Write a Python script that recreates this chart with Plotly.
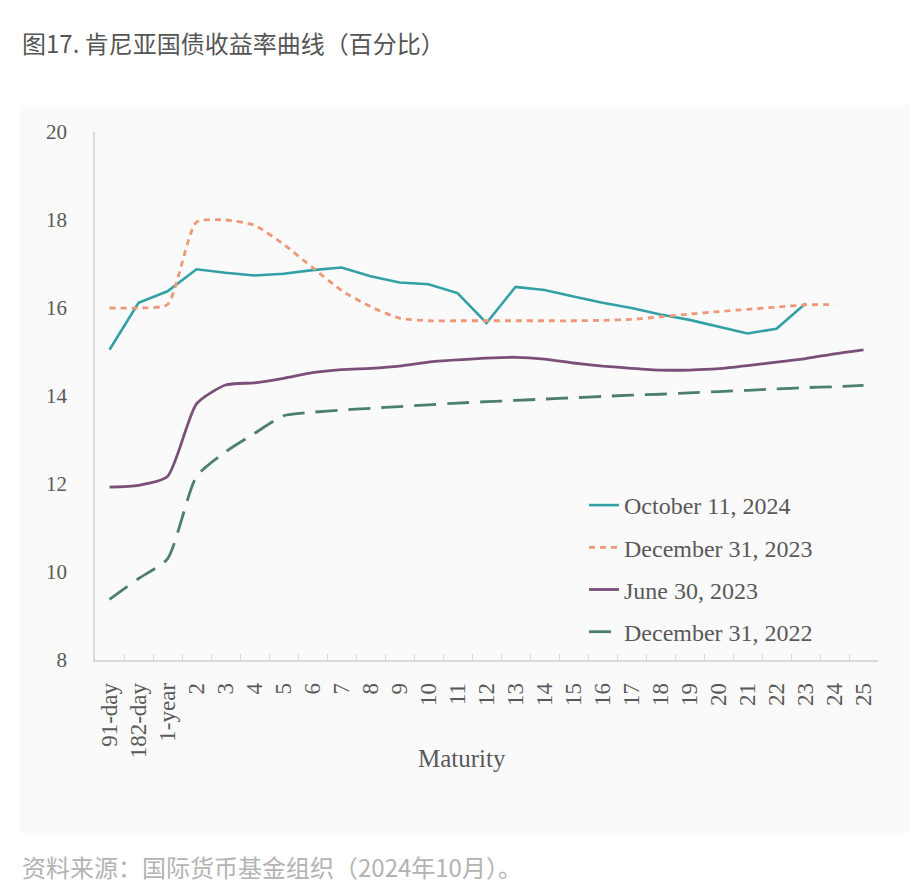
import plotly.graph_objects as go

categories = ["91-day", "182-day", "1-year", "2", "3", "4", "5", "6", "7", "8", "9", "10",
              "11", "12", "13", "14", "15", "16", "17", "18", "19", "20", "21", "22", "23", "24", "25"]

oct_2024 = [15.05, 16.12, 16.38, 16.88, 16.8, 16.74, 16.78, 16.86, 16.92, 16.72, 16.58, 16.54,
            16.34, 15.66, 16.48, 16.41, 16.26, 16.12, 16.0, 15.85, 15.73, 15.58, 15.42, 15.53, 16.1, None, None]
dec_2023 = [16.0, 16.0, 16.08, 17.95, 18.0, 17.88, 17.45, 16.92, 16.4, 16.03, 15.77, 15.71,
            15.71, 15.71, 15.71, 15.71, 15.71, 15.72, 15.74, 15.8, 15.86, 15.92, 15.97, 16.02, 16.07, 16.08, None]
jun_2023 = [11.93, 11.97, 12.17, 13.82, 14.25, 14.3, 14.4, 14.53, 14.6, 14.63, 14.68, 14.77,
            14.82, 14.86, 14.88, 14.84, 14.75, 14.68, 14.63, 14.59, 14.59, 14.62, 14.69, 14.77, 14.85, 14.96, 15.05]
dec_2022 = [9.38, 9.85, 10.3, 12.17, 12.73, 13.15, 13.55, 13.63, 13.68, 13.72, 13.76, 13.8,
            13.84, 13.87, 13.9, 13.93, 13.96, 13.99, 14.02, 14.04, 14.07, 14.1, 14.13, 14.16, 14.19, 14.21, 14.24]

series_names = ["October 11, 2024", "December 31, 2023", "June 30, 2023", "December 31, 2022"]
y_ticks = [8, 10, 12, 14, 16, 18, 20]

W, H = 921, 883
L, R, T, B = 95, 43, 132, 223
pw, ph = W - L - R, H - T - B

def px(x):
    return (x - L) / pw

def py(y):
    return (H - B - y) / ph

fig = go.Figure()
styles = [
    (oct_2024, dict(color="#33A0A6", width=2.6), "linear"),
    (dec_2023, dict(color="#EE9878", width=2.8, dash="6px,5px"), "spline"),
    (jun_2023, dict(color="#7A5078", width=2.8), "spline"),
    (dec_2022, dict(color="#4C8069", width=2.8, dash="22px,11px"), "spline"),
]
for name, (vals, line, shape) in zip(series_names, styles):
    line = dict(line)
    line["shape"] = shape
    if shape == "spline":
        line["smoothing"] = 0.6
    fig.add_trace(go.Scatter(x=categories, y=vals, mode="lines", name=name, line=line,
                             legendgroup=name, connectgaps=False))

serif = "Liberation Serif"
fig.update_layout(
    width=W, height=H,
    margin=dict(l=L, r=R, t=T, b=B, autoexpand=False),
    paper_bgcolor="white",
    plot_bgcolor="white",
    showlegend=True,
    legend=dict(x=px(584), y=py(483), xanchor="left", yanchor="top",
                bgcolor="rgba(0,0,0,0)", font=dict(family=serif, size=24, color="#595959"),
                tracegroupgap=8, itemwidth=30),
    xaxis=dict(type="category", categoryorder="array", categoryarray=categories,
               range=[-0.5, len(categories) - 0.5],
               showline=True, linecolor="#D9D9D9", linewidth=1.5,
               ticks="inside", tickson="boundaries", ticklen=6, tickcolor="#D9D9D9",
               tickangle=-90, tickfont=dict(family=serif, size=23, color="#595959"),
               ticklabelstandoff=12, showgrid=False, zeroline=False),
    yaxis=dict(range=[8, 20], tickvals=y_ticks, ticktext=[str(v) for v in y_ticks],
               showline=True, linecolor="#D9D9D9", linewidth=1.5, ticks="",
               tickfont=dict(family=serif, size=21, color="#595959"),
               ticklabelstandoff=22, showgrid=False, zeroline=False),
    shapes=[dict(type="rect", xref="paper", yref="paper", x0=px(20), x1=px(910), y0=py(833), y1=py(105),
                 fillcolor="#FAFAFA", line=dict(width=0), layer="below")],
    annotations=[
        dict(text="图17. 肯尼亚国债收益率曲线（百分比）", xref="paper", yref="paper",
             x=px(20), y=py(42), xanchor="left", yanchor="middle", showarrow=False,
             font=dict(family="Noto Sans CJK SC", size=24, color="#555555")),
        dict(text="资料来源：国际货币基金组织（2024年10月）。", xref="paper", yref="paper",
             x=px(20), y=py(866), xanchor="left", yanchor="middle", showarrow=False,
             font=dict(family="Noto Sans CJK SC", size=24, color="#B3B3B3")),
        dict(text="Maturity", xref="paper", yref="paper", x=px(462), y=py(758),
             xanchor="center", yanchor="middle", showarrow=False,
             font=dict(family=serif, size=25, color="#595959")),
    ],
)

fig.write_html("out.html")
